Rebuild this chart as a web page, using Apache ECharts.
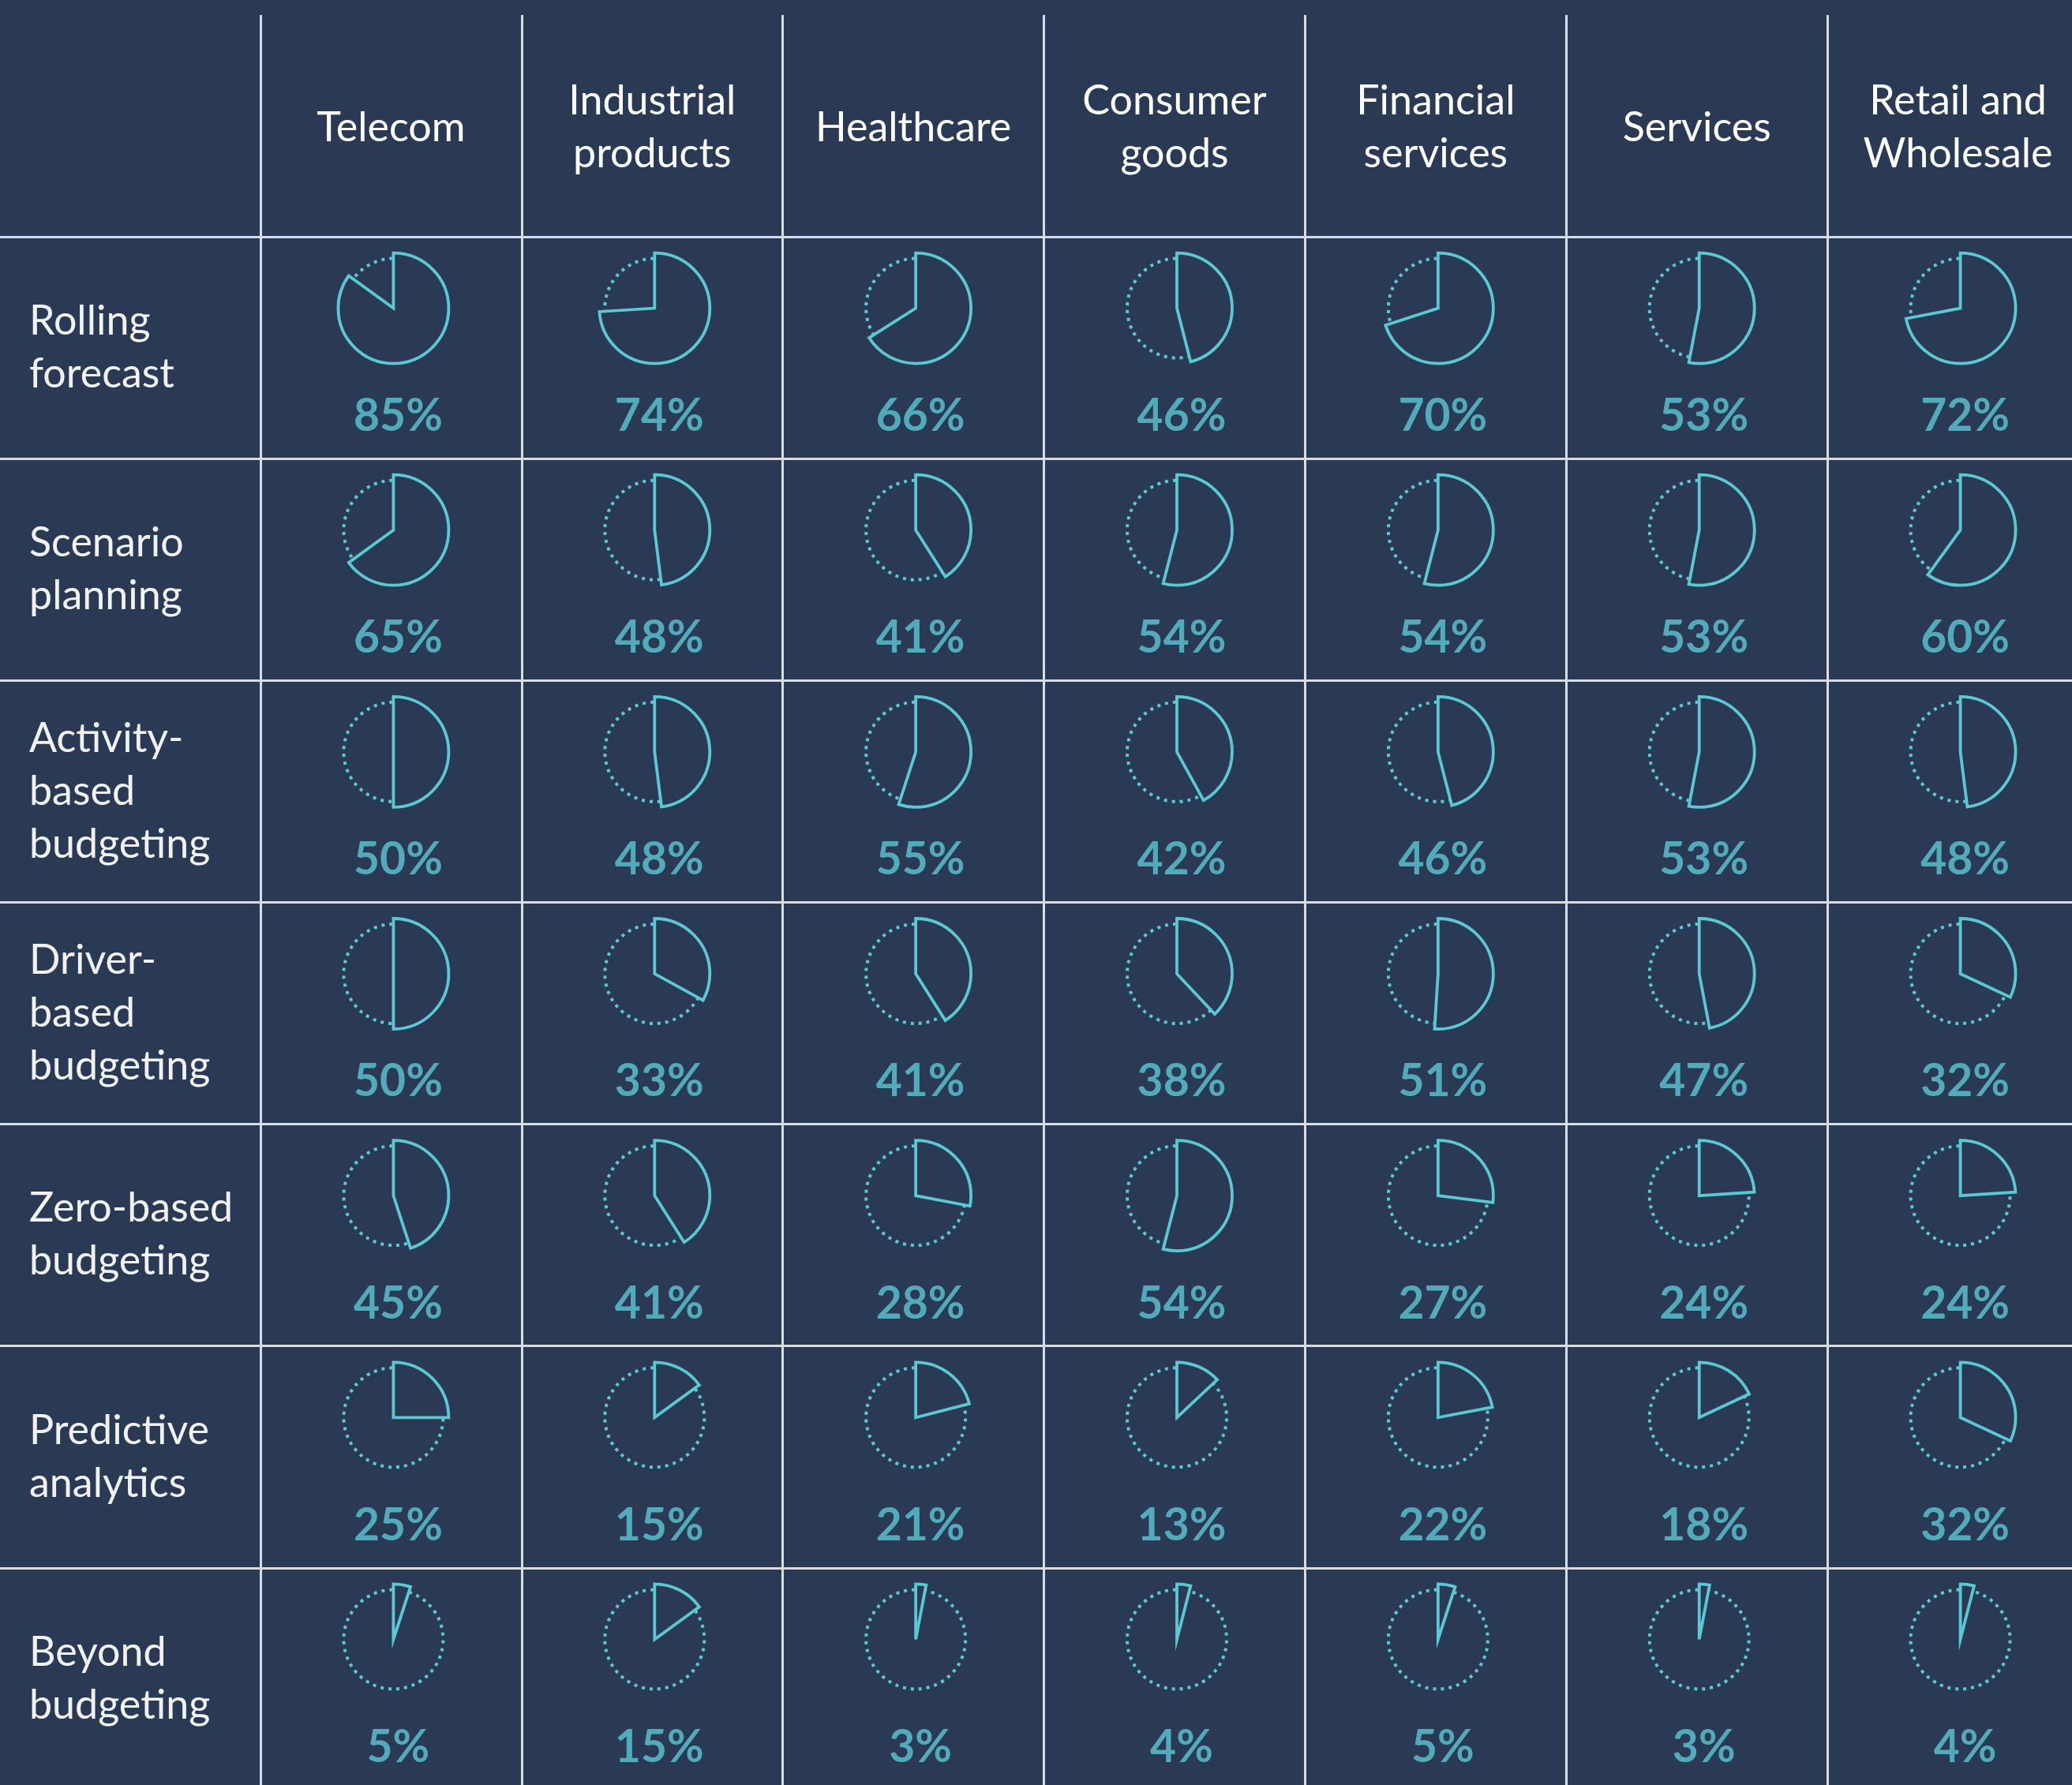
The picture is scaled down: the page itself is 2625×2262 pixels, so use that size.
<!DOCTYPE html>
<html>
<head>
<meta charset="utf-8">
<script src="https://cdn.jsdelivr.net/npm/echarts@6/dist/echarts.min.js"></script>
<style>
  html, body { margin: 0; padding: 0; background: #2a3a54; }
  #main { width: 2625px; height: 2262px; }
</style>
</head>
<body>
<div id="main"></div>
<script>
// columns and rows of the table
const industries = ['Telecom', 'Industrial\nproducts', 'Healthcare', 'Consumer\ngoods', 'Financial\nservices', 'Services', 'Retail and\nWholesale'];
const methods = ['Rolling\nforecast', 'Scenario\nplanning', 'Activity-\nbased\nbudgeting', 'Driver-\nbased\nbudgeting', 'Zero-based\nbudgeting', 'Predictive\nanalytics', 'Beyond\nbudgeting'];

// share of companies using each method, one array per method (same order as industries)
const rollingForecast   = [85, 74, 66, 46, 70, 53, 72];
const scenarioPlanning  = [65, 48, 41, 54, 54, 53, 60];
const activityBased     = [50, 48, 55, 42, 46, 53, 48];
const driverBased       = [50, 33, 41, 38, 51, 47, 32];
const zeroBased         = [45, 41, 28, 54, 27, 24, 24];
const predictive        = [25, 15, 21, 13, 22, 18, 32];
const beyondBudgeting   = [5, 15, 3, 4, 5, 3, 4];

const values = [rollingForecast, scenarioPlanning, activityBased, driverBased, zeroBased, predictive, beyondBudgeting];

const bg = '#2a3a54';
const cyan = '#5bc8d4';
const lineColor = '#d9dde3';
const font = 'Lato';

const chart = echarts.init(document.getElementById('main'));

const labelData = [];
values.forEach((row, r) => {
  row.forEach((v, c) => labelData.push([c, r, v]));
});

const option = {
  backgroundColor: bg,
  animation: false,
  grid: {
    left: 330, top: 300, right: -21, bottom: -6,
    outerBoundsMode: 'none'
  },
  xAxis: {
    type: 'category',
    position: 'top',
    data: industries,
    boundaryGap: true,
    axisLine: { show: true, lineStyle: { color: lineColor, width: 3 } },
    axisTick: { show: true, length: 281, lineStyle: { color: lineColor, width: 3 } },
    splitLine: { show: true, lineStyle: { color: lineColor, width: 3 } },
    axisLabel: {
      color: '#ffffff', fontFamily: font, fontSize: 52, lineHeight: 67,
      margin: 138, verticalAlign: 'middle', interval: 0
    }
  },
  yAxis: {
    type: 'category',
    inverse: true,
    data: methods,
    boundaryGap: true,
    axisLine: { show: true, lineStyle: { color: lineColor, width: 3 } },
    axisTick: { show: true, length: 330, lineStyle: { color: lineColor, width: 3 } },
    splitLine: { show: true, lineStyle: { color: lineColor, width: 3 } },
    axisLabel: {
      color: '#f2f2f2', fontFamily: font, fontSize: 52, lineHeight: 67,
      margin: 293, align: 'left', interval: 0
    }
  },
  series: [
    {
      type: 'scatter',
      data: labelData,
      symbolSize: 0,
      silent: true,
      z: 5,
      label: {
        show: true,
        position: 'inside',
        offset: [9, 87],
        formatter: p => p.value[2] + '%',
        color: cyan,
        fontFamily: font,
        fontWeight: 'bold',
        fontSize: 57
      }
    }
  ]
};

chart.setOption(option);

// place one pie per cell, at the cell position given by the axes
values.forEach((row, r) => {
  row.forEach((v, c) => {
    const pt = chart.convertToPixel({ xAxisIndex: 0, yAxisIndex: 0 }, [c, r]);
    const center = [pt[0] + 3, pt[1] - 50];
    option.series.push({
      type: 'pie',
      center: center,
      radius: 63,
      silent: true,
      z: 3,
      label: { show: false },
      labelLine: { show: false },
      emphasis: { disabled: true },
      data: [{
        value: 100,
        itemStyle: { color: 'transparent', borderColor: cyan, borderWidth: 4, borderType: [4, 6] }
      }]
    });
    option.series.push({
      type: 'pie',
      center: center,
      radius: 70,
      startAngle: 90,
      clockwise: true,
      silent: true,
      z: 4,
      label: { show: false },
      labelLine: { show: false },
      emphasis: { disabled: true },
      data: [
        { value: v, itemStyle: { color: bg, borderColor: cyan, borderWidth: 3.8, borderJoin: 'miter' } },
        { value: 100 - v, itemStyle: { color: 'transparent', borderWidth: 0 } }
      ]
    });
  });
});

chart.setOption(option);
</script>
</body>
</html>
